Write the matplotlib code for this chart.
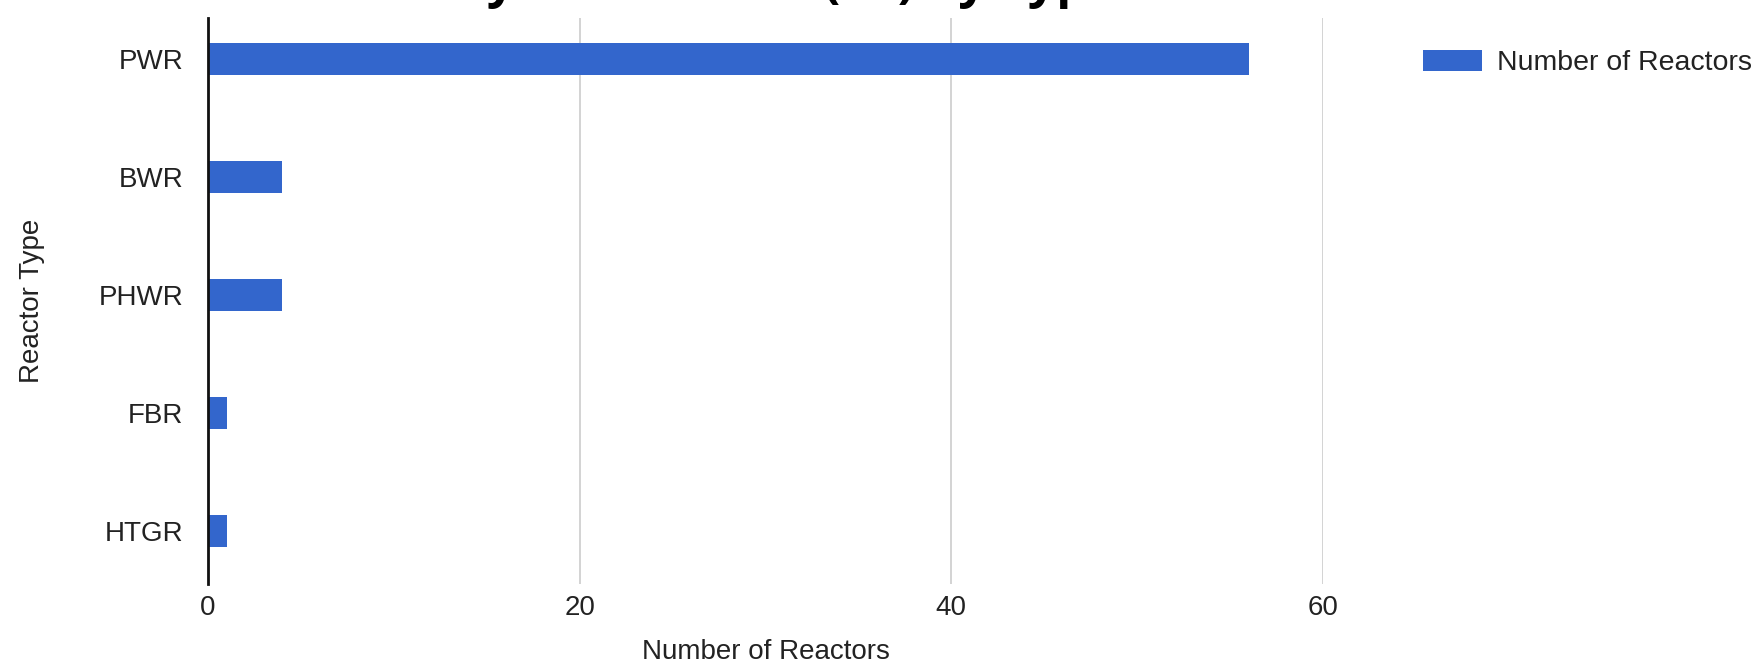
import matplotlib
matplotlib.use('Agg')
import matplotlib.pyplot as plt

reactor_types = ['PWR', 'BWR', 'PHWR', 'FBR', 'HTGR']
reactor_counts = [56, 4, 4, 1, 1]
x_ticks = [0, 20, 40, 60]
title_text = 'Summary of Reactors (IN) by Type'

plt.rcParams['font.family'] = ['Liberation Sans', 'DejaVu Sans']

W, H = 1760, 665
fig = plt.figure(figsize=(W / 100, H / 100), dpi=100)
ax = fig.add_axes([208 / W, 1 - 584 / H, (1323 - 208) / W, (584 - 18) / H])

ax.barh(reactor_types, reactor_counts, height=0.275, color='#3366CC',
        label='Number of Reactors', zorder=3)
ax.set_xlim(0, 60)
ax.set_ylim(4.45, -0.35)
ax.set_xticks(x_ticks)
ax.grid(axis='x', color='#cccccc', linewidth=1.2, zorder=0)
ax.set_axisbelow(True)

for s in ['top', 'right', 'bottom']:
    ax.spines[s].set_visible(False)
ax.spines['left'].set_linewidth(2)
ax.spines['left'].set_color('#111111')
ax.spines['left'].set_zorder(4)

ax.tick_params(axis='both', length=0, labelsize=20, labelcolor='#222222')
ax.tick_params(axis='y', pad=18)
ax.tick_params(axis='x', pad=8)

ax.set_xlabel('Number of Reactors', fontsize=20, color='#222222', labelpad=13)
ax.set_ylabel('Reactor Type', fontsize=20, color='#222222', labelpad=38)

ax.legend(loc='center left', bbox_to_anchor=(1423 / W, 1 - 63 / H),
          bbox_transform=fig.transFigure, frameon=False, fontsize=20.5,
          handlelength=2.07, handleheight=0.8, handletextpad=0.53,
          borderpad=0, borderaxespad=0, labelcolor='#222222')

# title sits mostly above the canvas, only descenders show
fig.text(275 / W, 1 + 3 / H, title_text, fontsize=36, fontweight='bold',
         family=['Open Sans', 'DejaVu Sans'], color='black',
         ha='left', va='baseline')

fig.savefig('out.png', dpi=100)
